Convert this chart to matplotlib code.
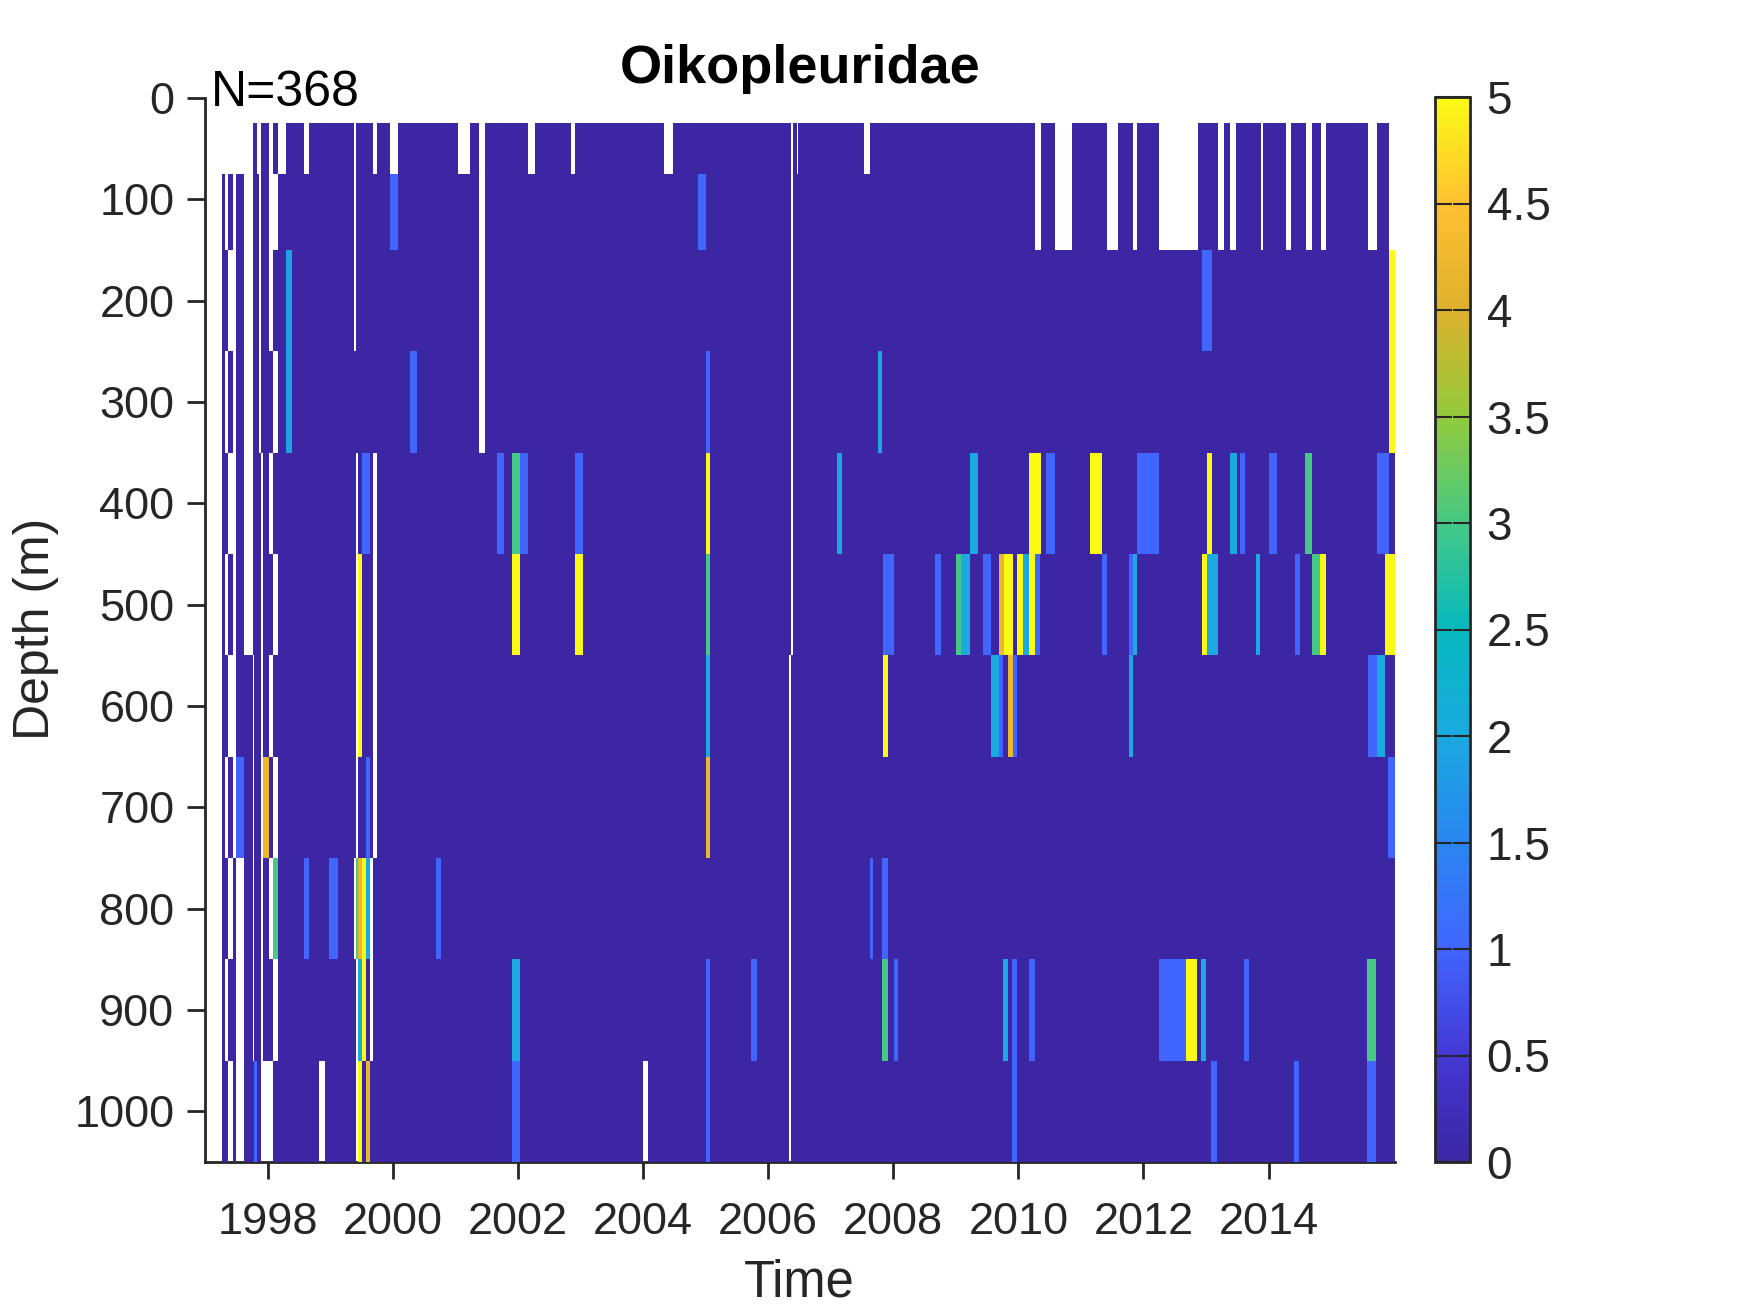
import numpy as np
import matplotlib
matplotlib.use("Agg")
import matplotlib.pyplot as plt
from matplotlib.colors import LinearSegmentedColormap

plt.rcParams['font.family'] = ['Liberation Sans', 'DejaVu Sans']

# depth bands (m)
depth_edges = [25, 75, 150, 250, 350, 450, 550, 650, 750, 850, 950, 1050]
t_start = 1997.0
t_end = 2016.02

# missing samples per depth band (from, to)
gaps_recent = [(2010.267, 2010.359), (2010.588, 2010.863), (2011.421, 2011.597), (2011.834, 2011.896),
               (2012.247, 2012.874), (2013.195, 2013.287), (2013.386, 2013.478), (2013.876, 2013.914),
               (2014.281, 2014.358), (2014.602, 2014.694), (2014.831, 2014.923), (2015.588, 2015.733),
               (2015.925, 2016.02)]
gaps_0 = [(1997.0, 1997.76), (1997.824, 1997.888), (1998.016, 1998.08), (1998.16, 1998.288),
          (1998.575, 1998.655), (1999.374, 1999.406), (1999.693, 1999.757), (1999.949, 2000.077),
          (2001.051, 2001.243), (2001.378, 2001.481), (2002.16, 2002.28), (2002.85, 2002.918),
          (2004.333, 2004.476), (2006.37, 2006.398), (2006.455, 2006.484), (2007.528, 2007.625)] + gaps_recent
gaps_1 = [(1997.0, 1997.265), (1997.313, 1997.361), (1997.441, 1997.489), (1997.617, 1997.76),
          (1997.856, 1997.888), (1998.016, 1998.16), (1999.374, 1999.406), (2001.378, 2001.481),
          (2006.37, 2006.398)] + gaps_recent
gaps_2 = [(1997.0, 1997.265), (1997.361, 1997.489), (1997.617, 1997.76), (1997.856, 1997.888),
          (1998.016, 1998.08), (1999.374, 1999.406), (2001.378, 2001.481), (2006.37, 2006.398)]
gaps_3 = [(1997.0, 1997.265), (1997.313, 1997.361), (1997.441, 1997.489), (1997.617, 1997.76),
          (1997.856, 1997.888), (1998.08, 1998.16), (2001.378, 2001.481), (2006.37, 2006.398)]
gaps_4 = [(1997.0, 1997.265), (1997.361, 1997.489), (1997.617, 1997.76), (1997.888, 1997.92),
          (1998.016, 1998.08), (1999.406, 1999.438), (1999.693, 1999.757), (2006.37, 2006.398)]
gaps_5 = [(1997.0, 1997.265), (1997.313, 1997.361), (1997.441, 1997.489), (1997.617, 1997.76),
          (1997.888, 1997.92), (1998.08, 1998.16), (1999.406, 1999.438), (1999.693, 1999.757),
          (2006.37, 2006.398)]
gaps_6 = [(1997.0, 1997.265), (1997.361, 1997.489), (1997.76, 1997.776), (1997.888, 1997.92),
          (1998.016, 1998.08), (1999.406, 1999.438), (1999.693, 1999.757), (2006.33, 2006.365)]
gaps_7 = [(1997.0, 1997.265), (1997.313, 1997.361), (1997.441, 1997.489), (1997.76, 1997.776),
          (1997.888, 1997.92), (1998.08, 1998.16), (1999.406, 1999.438), (1999.693, 1999.757),
          (2006.33, 2006.365)]
gaps_8 = [(1997.0, 1997.265), (1997.361, 1997.441), (1997.489, 1997.617), (1997.76, 1997.776),
          (1997.888, 1997.92), (1998.016, 1998.08), (1999.374, 1999.406), (1999.645, 1999.693),
          (2006.33, 2006.365)]
gaps_9 = [(1997.0, 1997.265), (1997.313, 1997.361), (1997.489, 1997.617), (1997.76, 1997.776),
          (1997.888, 1997.92), (1998.08, 1998.16), (1999.406, 1999.438), (1999.645, 1999.693),
          (2006.33, 2006.365)]
gaps_10 = [(1997.0, 1997.265), (1997.361, 1997.441), (1997.489, 1997.617), (1997.888, 1998.08),
           (1998.815, 1998.911), (1999.406, 1999.438), (2003.997, 2004.077), (2006.33, 2006.365)]

# non zero abundance per depth band (from, to, value)
vals_0 = []
vals_1 = [(1999.949, 2000.077, 1), (2004.875, 2005.006, 1)]
vals_2 = [(1998.288, 1998.383, 1.9), (2012.935, 2013.096, 1), (2015.925, 2016.02, 5)]
vals_3 = [(1998.288, 1998.383, 1.9), (2000.284, 2000.396, 1), (2005.006, 2005.069, 1),
          (2007.75, 2007.818, 2), (2015.925, 2016.02, 5)]
vals_4 = [(1999.502, 1999.645, 1), (2001.669, 2001.783, 1), (2001.909, 2002.034, 3), (2002.034, 2002.16, 1),
          (2002.913, 2003.038, 1), (2005.006, 2005.069, 5), (2007.1, 2007.18, 2), (2009.232, 2009.358, 2),
          (2010.173, 2010.356, 5), (2010.447, 2010.59, 1), (2011.149, 2011.343, 5), (2011.902, 2012.25, 1),
          (2013.02, 2013.1, 5), (2013.385, 2013.488, 2), (2013.545, 2013.625, 1), (2014.007, 2014.138, 1),
          (2014.583, 2014.697, 3), (2015.735, 2015.924, 1)]
vals_5 = [(1999.438, 1999.502, 5), (2001.909, 2002.034, 5), (2002.913, 2003.038, 5), (2005.006, 2005.069, 3),
          (2007.829, 2008.017, 1), (2008.673, 2008.77, 1), (2009.01, 2009.09, 3), (2009.09, 2009.232, 2),
          (2009.438, 2009.569, 1), (2009.694, 2009.763, 4.2), (2009.763, 2009.917, 5), (2009.985, 2010.076, 5),
          (2010.076, 2010.173, 2), (2010.173, 2010.27, 5), (2010.27, 2010.35, 1), (2011.343, 2011.423, 1),
          (2011.771, 2011.833, 1), (2011.833, 2011.902, 2), (2012.94, 2013.02, 5), (2013.02, 2013.191, 2),
          (2013.801, 2013.864, 2), (2014.423, 2014.503, 1), (2014.697, 2014.823, 3), (2014.823, 2014.92, 5),
          (2015.861, 2016.02, 5)]
vals_6 = [(1999.438, 1999.502, 5), (2005.006, 2005.069, 2), (2007.829, 2007.92, 5), (2009.569, 2009.694, 2),
          (2009.694, 2009.757, 1), (2009.837, 2009.917, 4.2), (2009.917, 2009.985, 1), (2011.771, 2011.833, 2),
          (2015.587, 2015.735, 1), (2015.735, 2015.861, 2)]
vals_7 = [(1997.489, 1997.617, 1), (1997.92, 1998.016, 4.2), (1999.581, 1999.645, 1), (2005.006, 2005.069, 4.2),
          (2015.914, 2016.02, 1)]
vals_8 = [(1998.08, 1998.16, 3), (1998.575, 1998.655, 1), (1998.974, 1999.118, 1), (1999.406, 1999.438, 3),
          (1999.438, 1999.502, 4.2), (1999.502, 1999.581, 5), (1999.581, 1999.645, 2), (2000.7, 2000.78, 1),
          (2007.625, 2007.671, 1), (2007.819, 2007.91, 1)]
vals_9 = [(1999.438, 1999.502, 2), (1999.502, 1999.581, 5), (2001.909, 2002.034, 2), (2005.006, 2005.069, 1),
          (2005.725, 2005.822, 1), (2007.819, 2007.91, 3), (2008.007, 2008.07, 1), (2009.747, 2009.827, 2),
          (2009.906, 2009.975, 1), (2010.163, 2010.259, 1), (2012.24, 2012.687, 1), (2012.687, 2012.863, 5),
          (2012.927, 2013.006, 2), (2013.613, 2013.693, 1), (2015.578, 2015.722, 3)]
vals_10 = [(1997.776, 1997.824, 1), (1999.438, 1999.502, 5), (1999.581, 1999.645, 4.2), (2001.909, 2002.034, 1),
           (2005.006, 2005.069, 1), (2009.906, 2009.975, 1), (2013.086, 2013.182, 1), (2014.412, 2014.492, 1),
           (2015.578, 2015.722, 1)]

all_gaps = [gaps_0, gaps_1, gaps_2, gaps_3, gaps_4, gaps_5, gaps_6, gaps_7, gaps_8, gaps_9, gaps_10]
all_vals = [vals_0, vals_1, vals_2, vals_3, vals_4, vals_5, vals_6, vals_7, vals_8, vals_9, vals_10]

x_ticks = [1998, 2000, 2002, 2004, 2006, 2008, 2010, 2012, 2014]
y_ticks = list(range(0, 1100, 100))
c_ticks = [0, 0.5, 1, 1.5, 2, 2.5, 3, 3.5, 4, 4.5, 5]
c_labels = ['0', '0.5', '1', '1.5', '2', '2.5', '3', '3.5', '4', '4.5', '5']

parula = LinearSegmentedColormap.from_list('parula_ish', [
    '#3C26A4', '#4438D4', '#4166FF', '#2A86F0', '#1AA9E0', '#06B9BF',
    '#45C985', '#92CB3C', '#DDB02C', '#FFC032', '#FAFA14'], N=256)

dark = '#262626'
W, H = 1750, 1313
fig = plt.figure(figsize=(W / 100, H / 100), dpi=100)
ax = fig.add_axes([205 / W, 1 - 1162 / H, (1395 - 205) / W, (1162 - 98) / H])

mesh = None
for i in range(len(all_gaps)):
    gaps = all_gaps[i]
    vals = all_vals[i]
    edges = {t_start, t_end}
    for g in gaps:
        edges.update(g)
    for v in vals:
        edges.update(v[:2])
    edges = np.array(sorted(edges))
    mids = 0.5 * (edges[:-1] + edges[1:])
    z = np.zeros(len(mids))
    for a, b, v in vals:
        z[(mids > a) & (mids < b)] = v
    for a, b in gaps:
        z[(mids > a) & (mids < b)] = np.nan
    mesh = ax.pcolormesh(edges, [depth_edges[i], depth_edges[i + 1]], np.ma.masked_invalid([z]),
                         cmap=parula, vmin=0, vmax=5, antialiased=False, linewidth=0)

ax.set_xlim(t_start, t_end)
ax.set_ylim(1050, 0)
ax.set_xticks(x_ticks)
ax.set_yticks(y_ticks)
ax.tick_params(direction='out', length=13, width=2, colors=dark, labelsize=32.5, pad=9)
ax.tick_params(axis='x', length=12, pad=17)
ax.spines['top'].set_visible(False)
ax.spines['right'].set_visible(False)
for s in ['left', 'bottom']:
    ax.spines[s].set_linewidth(2)
    ax.spines[s].set_color(dark)
    ax.spines[s].set_zorder(0.5)

fig.text(0.5 * (205 + 1395) / W, 1 - 69 / H, 'Oikopleuridae', fontsize=39, fontweight='bold',
         color='black', ha='center', va='center')
fig.text(211 / W, 1 - 93 / H, 'N=368', fontsize=36, color='black', ha='left', va='center')
fig.text(799 / W, 1 - 1283 / H, 'Time', fontsize=36.5, color=dark, ha='center', va='center')
fig.text(36 / W, 1 - 629 / H, 'Depth (m)', fontsize=36, color=dark, ha='center', va='center', rotation=90)

cax = fig.add_axes([1435 / W, 1 - 1162 / H, (1470 - 1435) / W, (1162 - 97) / H])
cb = fig.colorbar(mesh, cax=cax)
cb.set_ticks(c_ticks)
cb.set_ticklabels(c_labels)
cax.tick_params(axis='y', direction='in', left=True, right=True, length=12, width=1.5,
                colors=dark, labelsize=33, pad=12)
cb.outline.set_linewidth(2)
cb.outline.set_edgecolor(dark)

fig.savefig('out.png', dpi=100)
